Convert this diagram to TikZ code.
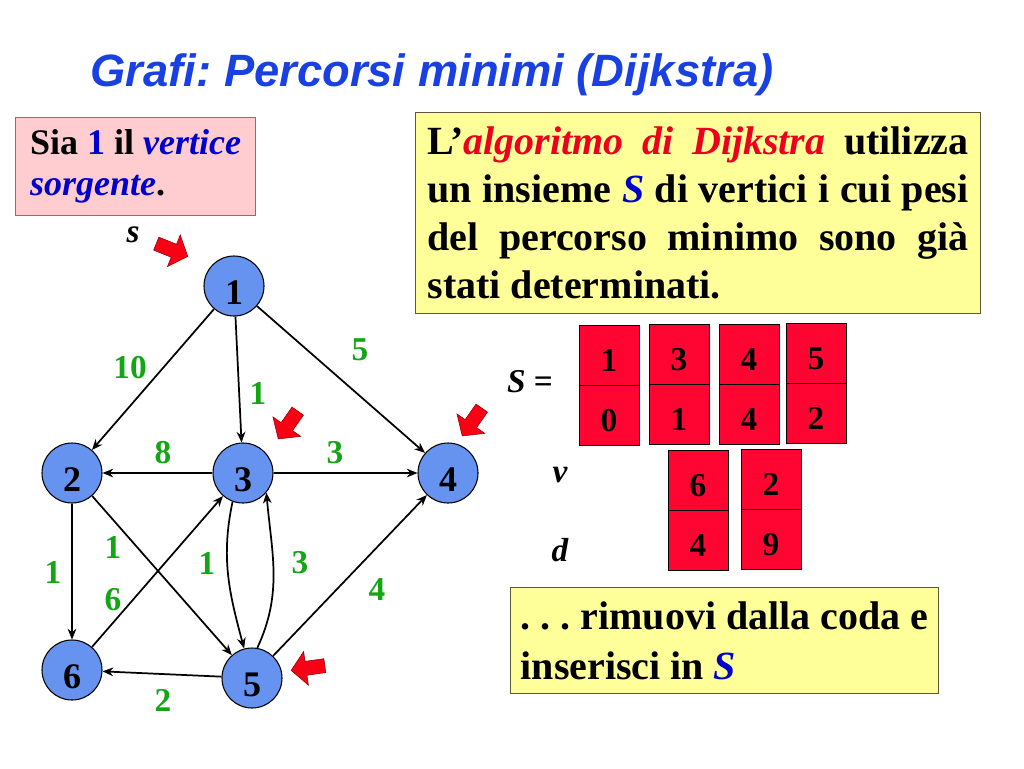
\documentclass[tikz,border=0pt]{standalone}
\usepackage{fontspec}
\setmainfont{Liberation Serif}
\newfontfamily\headfont{Liberation Sans}
\usetikzlibrary{arrows.meta,positioning}
\frenchspacing

\definecolor{titleblue}{RGB}{25,65,225}
\definecolor{vertexblue}{RGB}{102,146,240}
\definecolor{weightgreen}{RGB}{20,165,20}
\definecolor{cellred}{RGB}{255,5,50}
\definecolor{markred}{RGB}{250,0,20}
\definecolor{notepink}{RGB}{255,204,208}
\definecolor{notepinkline}{RGB}{225,70,95}
\definecolor{noteyellow}{RGB}{255,255,153}
\definecolor{noteyellowline}{RGB}{90,90,60}
\definecolor{textblue}{RGB}{0,0,205}
\definecolor{textred}{RGB}{235,0,30}

\tikzset{
  vertex/.style={circle, draw, line width=0.8pt, fill=vertexblue, minimum size=45pt, inner sep=0pt,
    text height=28pt, text depth=0pt, font=\fontsize{27}{27}\selectfont\bfseries},
  weight/.style={text=weightgreen, inner sep=0pt, font=\fontsize{25}{25}\selectfont\bfseries},
  edge/.style={-{Stealth[length=8pt,width=6.5pt]}, line width=1.3pt},
  cell/.style={draw, fill=cellred, minimum width=45pt, minimum height=45pt, inner sep=0pt, outer sep=0pt,
    text height=25pt, text depth=0pt, font=\fontsize{25}{25}\selectfont\bfseries},
  tag/.style={inner sep=0pt, font=\fontsize{25}{25}\selectfont\bfseries\itshape},
  headline/.style={text=titleblue, inner sep=0pt, font=\headfont\fontsize{34}{34}\selectfont\bfseries\itshape},
  note/.style={line width=0.8pt, anchor=north west, inner sep=0pt, font=\bfseries},
}

% Red block arrow: x, y, direction
\newcommand{\markerarrow}[3]{%
  \begin{scope}[shift={(#1,#2)}, rotate=#3]
    \filldraw[fill=markred, draw=markred!55!black, line width=0.4pt]
      (-17,-7) -- (2,-7) -- (2,-17) -- (17,0) -- (2,17) -- (2,7) -- (-17,7) -- cycle;
  \end{scope}}

\begin{document}
\begin{tikzpicture}[x=0.75pt, y=-0.75pt]
\useasboundingbox (0,0) rectangle (1024,768);

\node[headline] (title) at (432,75) {Grafi: Percorsi minimi (Dijkstra)};

% Notes:
\node[note, draw=notepinkline, fill=notepink, minimum width=180pt, minimum height=73.5pt, align=left,
      font=\fontsize{27}{31}\selectfont\bfseries] (source) at (15,117)
  {Sia \textcolor{textblue}{1} il \textcolor{textblue}{\textit{vertice}}\\\textcolor{textblue}{\textit{sorgente}}.};

\node[note, draw=noteyellowline, fill=noteyellow, text width=405.75pt, inner xsep=9pt,
      minimum height=150.75pt, align=justify,
      font=\fontsize{30}{36}\selectfont\bfseries] (idea) at (415,112)
  {L’\textcolor{textred}{\textit{algoritmo di Dijkstra}} utilizza\linebreak
   un insieme \textcolor{textblue}{\textit{S}} di vertici i cui pesi\linebreak
   del percorso minimo sono già\linebreak
   stati determinati.};

\node[note, draw=noteyellowline, fill=noteyellow, minimum width=321pt, minimum height=79.5pt, align=left,
      font=\fontsize{30}{37.5}\selectfont\bfseries] (step) at (510,587)
  {. . . rimuovi dalla coda e\\inserisci in \textcolor{textblue}{\textit{S}}};

% Graph:
\node[vertex] (n1) at (234,286) {1};
\node[vertex] (n2) at (72,473) {2};
\node[vertex] (n3) at (243,473) {3};
\node[vertex] (n4) at (448,473) {4};
\node[vertex] (n5) at (252,678) {5};
\node[vertex] (n6) at (72,670) {6};

\draw[edge] (n1) -- (n2);
\draw[edge] (n1) -- (n3);
\draw[edge] (n1) -- (n4);
\draw[edge] (n3) -- (n2);
\draw[edge] (n3) -- (n4);
\draw[edge] (n2) -- (n6);
\draw[edge] (n2) -- (n5);
\draw[edge] (n6) -- (n3);
\draw[edge] (n5) -- (n4);
\draw[edge] (n5) -- (n6);
\draw[edge] (n3.250) to[out=258, in=105] (n5.105);
\draw[edge] (n5.80) to[out=65, in=-85] (n3.-40);

% Weights:
\node[weight] (w12) at (130,368) {10};
\node[weight] (w14) at (360,350) {5};
\node[weight] (w13) at (258,393) {1};
\node[weight] (w32) at (163,453) {8};
\node[weight] (w34) at (335,453) {3};
\node[weight] (w26) at (53,572) {1};
\node[weight] (w25) at (113,547) {1};
\node[weight] (w63) at (113,600) {6};
\node[weight] (w35) at (207,563) {1};
\node[weight] (w53) at (300,563) {3};
\node[weight] (w54) at (377,590) {4};
\node[weight] (w56) at (163,700) {2};

\node[tag] (src) at (133,235) {s};
\markerarrow{172}{250}{-22}
\markerarrow{288}{425}{-125}
\markerarrow{472}{422}{-125}
\markerarrow{308}{668}{188}

% Set S and queue:
\node[tag] (setS) at (530,382) {S \upshape=};
\node[tag] (vrow) at (560,475) {v};
\node[tag] (drow) at (560,550) {d};
\foreach \v/\d/\x/\y [count=\i] in {1/0/609/355, 3/1/679/354, 4/4/749/354, 5/2/816/353, 6/4/698/480, 2/9/771/479}
{
  \node[cell] (v\i) at (\x,\y) {\v};
  \node[cell, below=0pt of v\i] (d\i) {\d};
}

\end{tikzpicture}
\end{document}
